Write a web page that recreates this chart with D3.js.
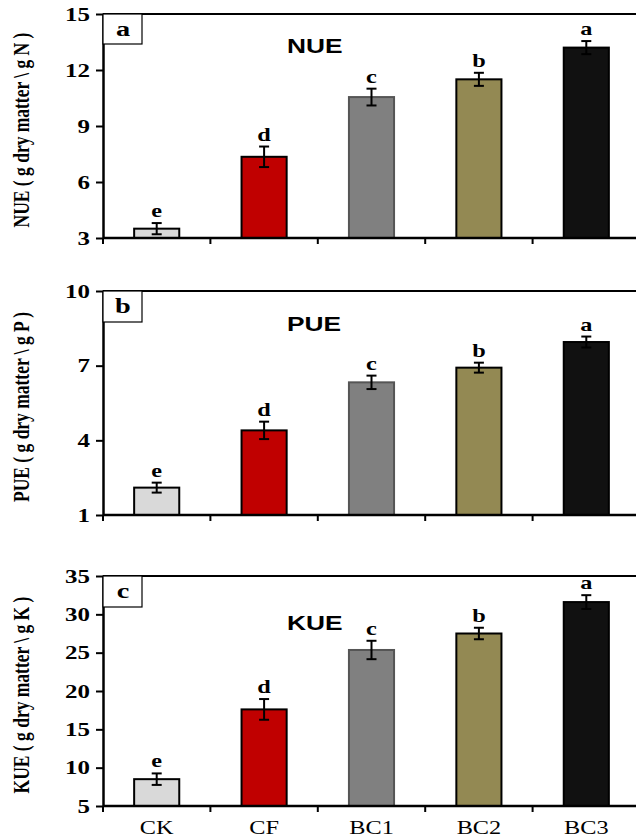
<!DOCTYPE html>
<html lang="en">
<head>
<meta charset="UTF-8" />
<script src="https://cdn.jsdelivr.net/npm/d3@7"></script>
<title>NUE PUE KUE</title>
<style>
  body { margin: 0; background: #fff; }
  svg { display: block; }
</style>
</head>
<body>
<script type="text/javascript">

// data
var categories = ["CK", "CF", "BC1", "BC2", "BC3"];
var letters = ["e", "d", "c", "b", "a"];
var barColors = ["#d9d9d9", "#c00000", "#808080", "#938953", "#111111"];
var barStrokes = ["#000", "#000", "#555", "#000", "#000"];

var nueMean = [3.5, 7.35, 10.55, 11.5, 13.2];
var nueErr = [0.3, 0.55, 0.45, 0.35, 0.35];
var nueTicks = [3, 6, 9, 12, 15];

var pueMean = [2.1, 4.4, 6.33, 6.92, 7.95];
var pueErr = [0.2, 0.35, 0.27, 0.2, 0.22];
var pueTicks = [1, 4, 7, 10];

var kueMean = [8.5, 17.6, 25.35, 27.5, 31.6];
var kueErr = [0.75, 1.35, 1.2, 0.75, 0.9];
var kueTicks = [5, 10, 15, 20, 25, 30, 35];

var width = 636, height = 837;
var left = 103, right = 640;
var SX = 1.35; // the original figure is stretched sideways

var panels = [
  {key: "a", title: "NUE", ylab: "NUE ( g dry matter \\ g N )", mean: nueMean, err: nueErr, ticks: nueTicks, top: 14, bottom: 238, titleY: 53, boxH: 30},
  {key: "b", title: "PUE", ylab: "PUE ( g dry matter \\ g P )", mean: pueMean, err: pueErr, ticks: pueTicks, top: 291, bottom: 515, titleY: 331, boxH: 31},
  {key: "c", title: "KUE", ylab: "KUE ( g dry matter \\ g K )", mean: kueMean, err: kueErr, ticks: kueTicks, top: 576, bottom: 806, titleY: 630, boxH: 31}
];

var svg = d3.select("body").append("svg").attr("width", width).attr("height", height);

var x = d3.scaleBand().domain(categories).range([left, right]).paddingInner(0.58).paddingOuter(0.29);
var serif = "'Liberation Serif', 'Times New Roman', serif";

function stretchText(sel, tx, ty, rot) {
  sel.attr("transform", "translate(" + tx + "," + ty + ") scale(" + SX + ",1)" + (rot ? " rotate(" + rot + ")" : ""));
}

panels.forEach(function(p, pi) {
  var y = d3.scaleLinear().domain([p.ticks[0], p.ticks[p.ticks.length - 1]]).range([p.bottom, p.top]);
  var g = svg.append("g");

  // bars
  g.selectAll("rect.bar").data(categories).enter().append("rect")
    .attr("class", "bar")
    .attr("x", function(d) { return x(d); })
    .attr("width", x.bandwidth())
    .attr("y", function(d, i) { return y(p.mean[i]); })
    .attr("height", function(d, i) { return p.bottom - y(p.mean[i]); })
    .attr("fill", function(d, i) { return barColors[i]; })
    .attr("stroke", function(d, i) { return barStrokes[i]; })
    .attr("stroke-width", 2);

  // error bars
  var eb = g.selectAll("g.err").data(categories).enter().append("g").attr("class", "err");
  eb.append("line")
    .attr("x1", function(d) { return x(d) + x.bandwidth() / 2; })
    .attr("x2", function(d) { return x(d) + x.bandwidth() / 2; })
    .attr("y1", function(d, i) { return y(p.mean[i] + p.err[i]); })
    .attr("y2", function(d, i) { return y(p.mean[i] - p.err[i]); });
  eb.append("line")
    .attr("x1", function(d) { return x(d) + x.bandwidth() / 2 - 5; })
    .attr("x2", function(d) { return x(d) + x.bandwidth() / 2 + 5; })
    .attr("y1", function(d, i) { return y(p.mean[i] + p.err[i]); })
    .attr("y2", function(d, i) { return y(p.mean[i] + p.err[i]); });
  eb.append("line")
    .attr("x1", function(d) { return x(d) + x.bandwidth() / 2 - 5; })
    .attr("x2", function(d) { return x(d) + x.bandwidth() / 2 + 5; })
    .attr("y1", function(d, i) { return y(p.mean[i] - p.err[i]); })
    .attr("y2", function(d, i) { return y(p.mean[i] - p.err[i]); });
  eb.selectAll("line").attr("stroke", "#000").attr("stroke-width", 2);

  // significance letters
  g.selectAll("text.sig").data(categories).enter().append("text")
    .attr("class", "sig")
    .attr("text-anchor", "middle")
    .style("font-family", serif).style("font-weight", "bold").style("font-size", "18px")
    .text(function(d, i) { return letters[i]; })
    .each(function(d, i) {
      stretchText(d3.select(this), x(d) + x.bandwidth() / 2, y(p.mean[i] + p.err[i]) - 6);
    });

  // top frame line
  g.append("line").attr("x1", left).attr("x2", right).attr("y1", p.top).attr("y2", p.top)
    .attr("stroke", "#000").attr("stroke-width", 1.8);

  // y axis
  var ya = g.append("g").attr("transform", "translate(" + left + ",0)")
    .call(d3.axisLeft(y).tickValues(p.ticks).tickSize(7).tickSizeOuter(0));
  ya.select(".domain").attr("stroke-width", 2.5);
  ya.selectAll(".tick line").attr("stroke-width", 2);
  ya.selectAll(".tick text")
    .style("font-family", serif).style("font-weight", "bold").style("font-size", "18.5px")
    .attr("x", 0).attr("dy", "0.34em")
    .each(function(d) { stretchText(d3.select(this), -13, 0); });

  // x axis line and category boundary ticks
  var bounds = categories.map(function(c) { return x(c) - (x.step() - x.bandwidth()) / 2; });
  g.append("line").attr("x1", left).attr("x2", right).attr("y1", p.bottom).attr("y2", p.bottom)
    .attr("stroke", "#000").attr("stroke-width", 2.5);
  g.selectAll("line.bt").data(bounds).enter().append("line")
    .attr("class", "bt")
    .attr("x1", function(d) { return d; }).attr("x2", function(d) { return d; })
    .attr("y1", p.bottom).attr("y2", p.bottom + 6)
    .attr("stroke", "#000").attr("stroke-width", 2);

  if (pi === panels.length - 1) {
    var xa = g.append("g").attr("transform", "translate(0," + p.bottom + ")")
      .call(d3.axisBottom(x).tickSize(0).tickPadding(0));
    xa.select(".domain").remove();
    xa.selectAll(".tick text")
      .style("font-family", serif).style("font-size", "18px")
      .attr("y", 0).attr("dy", 0)
      .each(function() { stretchText(d3.select(this), 0, 28); });
  }

  // panel letter box
  g.append("rect").attr("x", left).attr("y", p.top).attr("width", 39).attr("height", p.boxH)
    .attr("fill", "#fff").attr("stroke", "#000").attr("stroke-width", 1.2);
  g.append("text").attr("text-anchor", "middle")
    .style("font-family", serif).style("font-weight", "bold").style("font-size", "21px")
    .text(p.key)
    .call(stretchText, left + 20, p.top + 22);

  // panel title
  g.append("text").attr("text-anchor", "start")
    .style("font-family", "'Liberation Sans', Arial, sans-serif").style("font-weight", "bold").style("font-size", "19.5px")
    .text(p.title)
    .call(stretchText, 287, p.titleY);

  // y axis title
  g.append("text").attr("text-anchor", "middle")
    .style("font-family", serif).style("font-weight", "bold").style("font-size", "17.5px")
    .text(p.ylab)
    .call(stretchText, 29, (p.top + p.bottom) / 2 + 4, -90);
});
</script>
</body>
</html>
